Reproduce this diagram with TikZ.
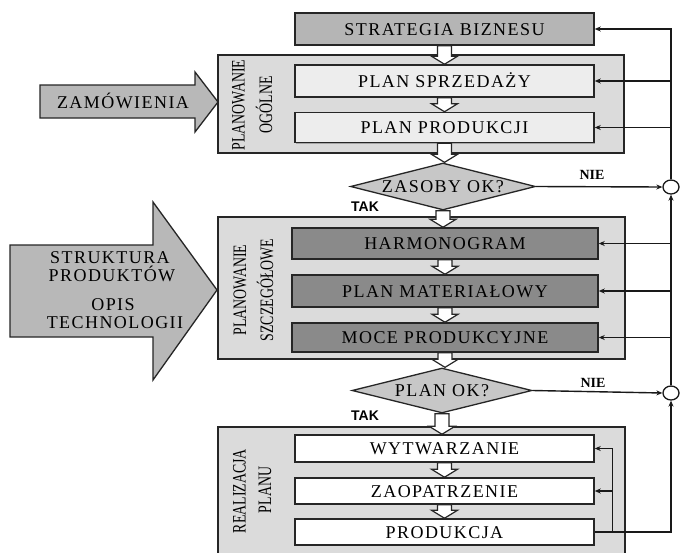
\documentclass[tikz,border=0pt]{standalone}
\usepackage{fontspec}
\setmainfont{Liberation Serif}
\newfontfamily\boxfont[LetterSpace=8]{Liberation Serif}
\newfontfamily\tagfont{Liberation Sans}
\usetikzlibrary{shapes.geometric,arrows.meta,calc,shadows}

% hollow block arrow from the bottom of one node to the top of the next
\newcommand\hollowdown[2]{%
  \path[hollow] let \p1=(#1.south), \p2=(#2.north) in
    (\x1-7pt,\y1) -- (\x1-7pt,\y2+8pt) -- (\x1-13pt,\y2+8pt) -- (\x1,\y2)
    -- (\x1+13pt,\y2+8pt) -- (\x1+7pt,\y2+8pt) -- (\x1+7pt,\y1) -- cycle;}

\begin{document}
\begin{tikzpicture}[x=1pt,y=-1pt,
  every node/.style={inner sep=0pt},
  txt/.style={font=\boxfont\fontsize{18}{20}\selectfont, text=black, text height=12pt, text depth=0pt},
  shade1/.style={drop shadow={shadow xshift=1.3pt,shadow yshift=-1.3pt,fill=black!55}},
  box/.style={draw=black!85, line width=1.5pt, minimum width=299pt, txt, shade1},
  grp/.style={draw=black!85, line width=1.5pt, fill=black!14, shade1},
  dia/.style={diamond, draw=black!85, line width=1.3pt, fill=black!22, minimum width=185pt, minimum height=47pt},
  junc/.style={ellipse, draw=black!90, line width=1.3pt, fill=white, minimum width=16pt, minimum height=14pt},
  hollow/.style={draw=black!85, line width=1.2pt, fill=white},
  bigarrow/.style={draw=black!85, line width=1.3pt, fill=black!28},
  fb/.style={draw=black!90, line width=1.4pt, -{Stealth[length=6pt,width=5pt]}},
  side/.style={rotate=90, font=\fontsize{19}{19}\selectfont},
  nie/.style={font=\bfseries\fontsize{14}{14}\selectfont},
  tak/.style={font=\tagfont\bfseries\fontsize{14}{14}\selectfont}]

\useasboundingbox (0,0) rectangle (680,552);
\fill[white] (0,0) rectangle (680,552);
\clip (0,0) rectangle (680,552);

% stage frames
\path[grp] (218,55) rectangle (624,153);
\path[grp] (218,217) rectangle (625,359);
\path[grp] (218,427) rectangle (625,575);

% stage titles
\node[side] (g1a) at (238.5,105) {\scalebox{0.73}[1]{PLANOWANIE}};
\node[side] (g1b) at (264,105) {\scalebox{0.73}[1]{OGÓLNE}};
\node[side] (g2a) at (240,290) {\scalebox{0.73}[1]{PLANOWANIE}};
\node[side] (g2b) at (265,290) {\scalebox{0.73}[1]{SZCZEGÓŁOWE}};
\node[side] (g3a) at (239.5,491) {\scalebox{0.73}[1]{REALIZACJA}};
\node[side] (g3b) at (265,490) {\scalebox{0.73}[1]{PLANU}};

% external inputs
\path[bigarrow] (40,85) -- (195,85) -- (195,72) -- (218,102) -- (195,132) -- (195,118) -- (40,118) -- cycle;
\node[txt] (zam) at (123,102) {ZAMÓWIENIA};
\path[bigarrow] (10,245) -- (153,245) -- (153,202) -- (217,290) -- (153,380) -- (153,337) -- (10,337) -- cycle;
\node[txt] (s1) at (110,257) {STRUKTURA};
\node[txt] (s2) at (112,275) {PRODUKTÓW};
\node[txt] (s3) at (113,304) {OPIS};
\node[txt] (s4) at (115,322) {TECHNOLOGII};

% process boxes
\node[box, fill=black!29, minimum height=32pt] (strat) at (444.5,29) {STRATEGIA BIZNESU};
\node[box, fill=black!7, minimum height=32pt] (sprz) at (444.5,81) {PLAN SPRZEDAŻY};
\node[box, fill=black!7, minimum height=30pt] (prodp) at (444.5,127.5) {PLAN PRODUKCJI};
\node[dia] (zas) at (443,186.5) {};
\node[txt] (zast) at (zas) {ZASOBY OK?};
\node[box, fill=black!46, minimum width=306pt, minimum height=31pt] (harm) at (445,243.5) {HARMONOGRAM};
\node[box, fill=black!46, minimum width=306pt, minimum height=32pt] (mat) at (445,291) {PLAN MATERIAŁOWY};
\node[box, fill=black!46, minimum width=306pt, minimum height=29pt] (moce) at (445,337.5) {MOCE PRODUKCYJNE};
\node[dia, minimum width=180pt, minimum height=45pt] (pok) at (442,390.5) {};
\node[txt] (pokt) at (pok) {PLAN OK?};
\node[box, fill=white, minimum height=27pt] (wyt) at (444.5,448.5) {WYTWARZANIE};
\node[box, fill=white, minimum height=26pt] (zaop) at (444.5,491) {ZAOPATRZENIE};
\node[box, fill=white, minimum height=26pt] (prk) at (444.5,532) {PRODUKCJA};

% main flow
\hollowdown{strat}{sprz}
\hollowdown{sprz}{prodp}
\hollowdown{prodp}{zas}
\hollowdown{zas}{harm}
\hollowdown{harm}{mat}
\hollowdown{mat}{moce}
\hollowdown{moce}{pok}
\hollowdown{pok}{wyt}
\hollowdown{wyt}{zaop}
\hollowdown{zaop}{prk}

\node[tak] (tak1) at (365,207) {TAK};
\node[tak] (tak2) at (365,416) {TAK};
\node[nie] (nie1) at (592,175) {NIE};
\node[nie] (nie2) at (593,383) {NIE};

% feedback loops
\node[junc] (c1) at (671,187) {};
\node[junc] (c2) at (671,393) {};
\coordinate (tap) at ($(prk.east)+(18pt,0pt)$);

\draw[fb] (zas.east) -- (c1.west);
\draw[fb] (pok.east) -- (c2.west);
\draw[fb] (c1.north) |- (strat.east);
\draw[fb] (c1.north |- sprz.east) -- (sprz.east);
\draw[fb] (c1.north |- prodp.east) -- (prodp.east);
\draw[fb] (c2.north) -- (c1.south);
\draw[fb] (c2.north |- harm.east) -- (harm.east);
\draw[fb] (c2.north |- mat.east) -- (mat.east);
\draw[fb] (c2.north |- moce.east) -- (moce.east);
\draw[fb] (prk.east) -| (c2.south);
\draw[fb] (tap) |- (wyt.east);
\draw[fb] (tap |- zaop.east) -- (zaop.east);
\end{tikzpicture}
\end{document}
